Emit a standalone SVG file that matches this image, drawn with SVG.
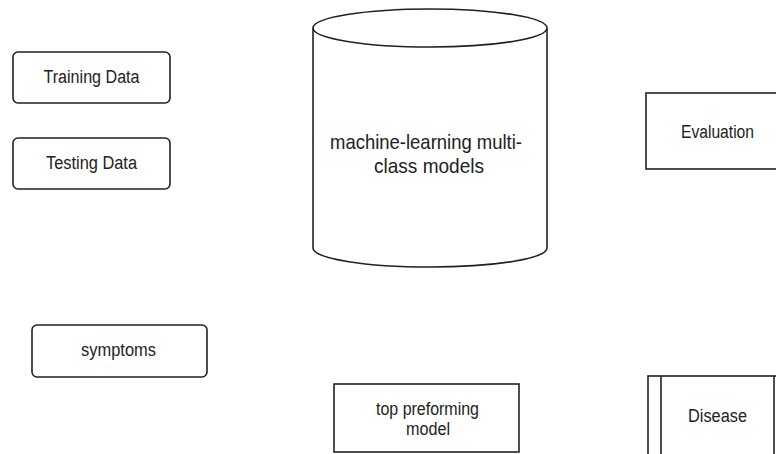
<svg xmlns="http://www.w3.org/2000/svg" width="776" height="454" viewBox="0 0 776 454">
<style>
.s{fill:#fff;stroke:#222;stroke-width:1.6}
.l{fill:none;stroke:#222;stroke-width:1.6}
text{font-family:"Liberation Sans",Arial,sans-serif;fill:#222;text-anchor:middle}
.t{font-size:18px}
.b{font-size:21px}
</style>
<rect width="776" height="454" fill="#fff"/>
<g id="training-data">
<rect class="s" x="13" y="52" width="157" height="51" rx="5"/>
<text class="t" x="91.5" y="83" textLength="96" lengthAdjust="spacingAndGlyphs">Training Data</text>
</g>
<g id="testing-data">
<rect class="s" x="13" y="138" width="157" height="51" rx="5"/>
<text class="t" x="91.5" y="169" textLength="91" lengthAdjust="spacingAndGlyphs">Testing Data</text>
</g>
<g id="ml-models">
<path class="s" d="M313,28 L313,248 A117,19 0 0 0 547,248 L547,28"/>
<ellipse class="s" cx="430" cy="28" rx="117" ry="19"/>
<text class="b" x="426" y="149" textLength="192" lengthAdjust="spacingAndGlyphs">machine-learning multi-</text>
<text class="b" x="429" y="173" textLength="110" lengthAdjust="spacingAndGlyphs">class models</text>
</g>
<g id="evaluation">
<rect class="s" x="646" y="93" width="200" height="76"/>
<text class="t" x="717.5" y="138" textLength="73" lengthAdjust="spacingAndGlyphs">Evaluation</text>
</g>
<g id="symptoms">
<rect class="s" x="32" y="325" width="175" height="52" rx="5"/>
<text class="t" x="118.5" y="356" textLength="75" lengthAdjust="spacingAndGlyphs">symptoms</text>
</g>
<g id="top-model">
<rect class="s" x="334" y="384" width="185" height="68"/>
<text class="t" x="427.5" y="415" textLength="103" lengthAdjust="spacingAndGlyphs">top preforming</text>
<text class="t" x="428" y="435" textLength="44" lengthAdjust="spacingAndGlyphs">model</text>
</g>
<g id="disease">
<rect class="s" x="648" y="376" width="200" height="100"/>
<line class="l" x1="661" y1="376" x2="661" y2="454"/>
<line class="l" x1="774" y1="376" x2="774" y2="454"/>
<text class="t" x="717.5" y="422" textLength="59" lengthAdjust="spacingAndGlyphs">Disease</text>
</g>
<g id="connectors"></g>
</svg>
